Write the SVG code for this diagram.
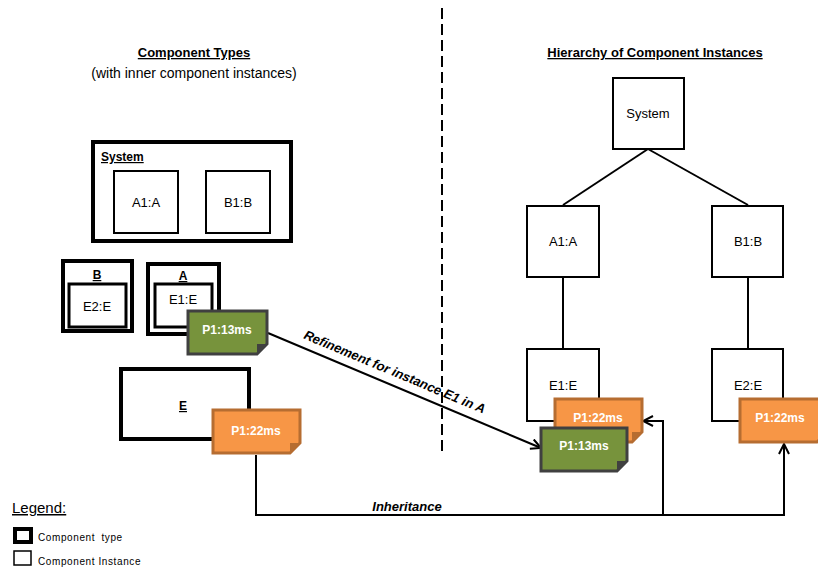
<svg xmlns="http://www.w3.org/2000/svg" width="818" height="569" viewBox="0 0 818 569">
  <defs>
    <style>
      text { font-family: "Liberation Sans", Arial, sans-serif; fill: #000; }
      .title { font-size: 13px; font-weight: bold; text-decoration: underline; text-anchor: middle; }
      .sub { font-size: 14px; text-anchor: middle; }
      .lbl { font-size: 13px; text-anchor: middle; }
      .tname { font-size: 12px; font-weight: bold; text-decoration: underline; }
      .type { fill: #fff; stroke: #000; stroke-width: 4; }
      .inst { fill: #fff; stroke: #000; stroke-width: 2; }
      .inner { fill: #fff; stroke: #000; stroke-width: 3; }
      .edge { fill: none; stroke: #000; stroke-width: 2; }
      .note-g { fill: #77933C; stroke: #404040; stroke-width: 3; }
      .fold-g { fill: #404040; }
      .note-o { fill: #F79646; stroke: #B66D31; stroke-width: 3; }
      .fold-o { fill: #B66D31; }
      .ntext { font-size: 12px; font-weight: bold; fill: #fff; text-anchor: middle; }
      .elabel { font-size: 13px; font-weight: bold; font-style: italic; }
      .legend { font-size: 10px; letter-spacing: 0.6px; }
    </style>
    <marker id="arrow" viewBox="0 0 12 12" refX="11" refY="6" markerWidth="12" markerHeight="12" markerUnits="userSpaceOnUse" orient="auto">
      <path d="M1,1 L11,6 L1,11" fill="none" stroke="#000" stroke-width="2"/>
    </marker>
  </defs>

  <rect width="818" height="569" fill="#fff"/>

  <!-- headings -->
  <text class="title" x="194" y="57">Component Types</text>
  <text class="sub" x="194" y="78">(with inner component instances)</text>
  <text class="title" x="655" y="57">Hierarchy of Component Instances</text>

  <!-- separator -->
  <line x1="442" y1="8" x2="442" y2="456" stroke="#000" stroke-width="2" stroke-dasharray="11,5"/>

  <!-- connectors -->
  <g id="connectors">
    <line class="edge" x1="648" y1="149" x2="563" y2="205"/>
    <line class="edge" x1="648" y1="149" x2="748" y2="205"/>
    <line class="edge" x1="563" y1="277" x2="563" y2="349"/>
    <line class="edge" x1="748" y1="277" x2="748" y2="349"/>
    <path class="edge" d="M256,455 V515 H784 V444" marker-end="url(#arrow)"/>
    <path class="edge" d="M663,515 V421 H643" marker-end="url(#arrow)"/>
    <line class="edge" x1="268" y1="333" x2="541" y2="448" marker-end="url(#arrow)"/>
    <text class="elabel" x="407" y="511" text-anchor="middle">Inheritance</text>
    <text class="elabel" x="393" y="376" text-anchor="middle" transform="rotate(22.7 393 376)">Refinement for instance E1 in A</text>
  </g>

  <!-- component types -->
  <g id="type-system">
    <rect class="type" x="93" y="142" width="198" height="99"/>
    <text class="tname" x="101" y="161">System</text>
    <g id="type-system-a1">
      <rect class="inst" x="114" y="171" width="64" height="62"/>
      <text class="lbl" x="146" y="207">A1:A</text>
    </g>
    <g id="type-system-b1">
      <rect class="inst" x="206" y="171" width="64" height="62"/>
      <text class="lbl" x="238" y="207">B1:B</text>
    </g>
  </g>

  <g id="type-b">
    <rect class="type" x="63" y="261" width="69" height="70"/>
    <text class="tname" x="97" y="279" text-anchor="middle">B</text>
    <rect class="inner" x="69" y="284" width="57" height="43"/>
    <text class="lbl" x="97" y="311">E2:E</text>
  </g>

  <g id="type-a">
    <rect class="type" x="148" y="264" width="71" height="70"/>
    <text class="tname" x="183" y="280" text-anchor="middle">A</text>
    <rect class="inner" x="155" y="284" width="57" height="43"/>
    <text class="lbl" x="183" y="304">E1:E</text>
  </g>

  <g id="type-e">
    <rect class="type" x="121" y="369" width="128" height="70"/>
    <text class="tname" x="183" y="410" text-anchor="middle">E</text>
  </g>

  <!-- timing notes on types -->
  <g id="note-a-e1">
    <path class="note-g" d="M188,311 H267 V344 L257,354 H188 Z"/>
    <path class="fold-g" d="M267,344 L257,354 L257,344 Z"/>
    <text class="ntext" x="227" y="334">P1:13ms</text>
  </g>
  <g id="note-e">
    <path class="note-o" d="M213,410 H300 V443 L290,453 H213 Z"/>
    <path class="fold-o" d="M300,443 L290,453 L290,443 Z"/>
    <text class="ntext" x="256" y="435">P1:22ms</text>
  </g>

  <!-- instance hierarchy -->
  <g id="inst-system">
    <rect class="inst" x="613" y="78" width="71" height="71"/>
    <text class="lbl" x="648" y="118">System</text>
  </g>
  <g id="inst-a1">
    <rect class="inst" x="527" y="206" width="72" height="71"/>
    <text class="lbl" x="563" y="246">A1:A</text>
  </g>
  <g id="inst-b1">
    <rect class="inst" x="712" y="206" width="71" height="71"/>
    <text class="lbl" x="748" y="246">B1:B</text>
  </g>
  <g id="inst-e1">
    <rect class="inst" x="527" y="349" width="72" height="72"/>
    <text class="lbl" x="563" y="390">E1:E</text>
    <g id="note-e1-inherited">
      <path class="note-o" d="M555,399 H642 V432 L632,442 H555 Z"/>
      <path class="fold-o" d="M642,432 L632,442 L632,432 Z"/>
      <text class="ntext" x="598" y="422">P1:22ms</text>
    </g>
    <g id="note-e1-refined">
      <path class="note-g" d="M541,428 H627 V461 L617,471 H541 Z"/>
      <path class="fold-g" d="M627,461 L617,471 L617,461 Z"/>
      <text class="ntext" x="584" y="450">P1:13ms</text>
    </g>
  </g>
  <g id="inst-e2">
    <rect class="inst" x="712" y="349" width="71" height="72"/>
    <text class="lbl" x="748" y="390">E2:E</text>
    <g id="note-e2">
      <path class="note-o" d="M740,399 H827 V432 L817,442 H740 Z"/>
      <text class="ntext" x="780" y="422">P1:22ms</text>
    </g>
  </g>

  <!-- legend -->
  <g id="legend">
    <text x="12" y="513" font-size="15" text-decoration="underline">Legend:</text>
    <rect x="15" y="529" width="16" height="13" fill="#fff" stroke="#000" stroke-width="4"/>
    <text class="legend" x="38" y="541" word-spacing="3">Component type</text>
    <rect x="14" y="551" width="17" height="14" fill="#fff" stroke="#000" stroke-width="1.5"/>
    <text class="legend" x="38" y="565">Component Instance</text>
  </g>
</svg>
